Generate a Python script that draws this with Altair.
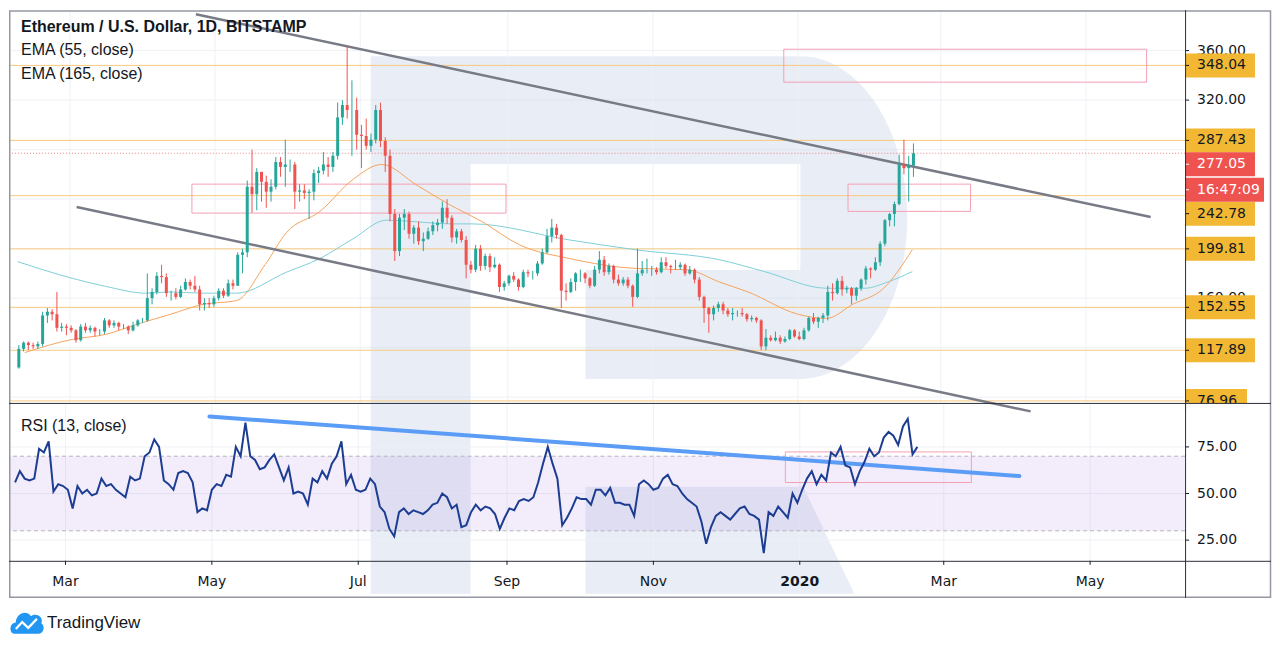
import altair as alt
import pandas as pd

# ---------------- values ----------------
candle_start = "2019-02-07"   # first two-day candle
first_open = 104

closes = [
    119, 124, 122, 121, 123, 146, 149, 147, 136, 137, 136,
    134, 126, 137, 134, 136, 133, 133, 142, 138, 140, 137, 137, 134, 138, 142, 142,
    160, 165, 178, 177, 164, 164, 161, 167, 173, 170, 167, 155, 156, 155, 160,
    166, 162, 172, 170, 195, 197, 250, 244, 262, 254, 246, 250, 270, 266, 268,
    268, 246, 247, 245, 246, 261, 263, 268, 266, 275, 306, 316, 312, 312, 292,
    291, 283, 288, 312, 287, 275, 228, 198, 225, 228, 212, 217, 206, 208, 214, 219,
    221, 233, 225, 209, 214, 207, 187, 183, 200, 186, 194, 185, 187, 169, 172,
    178, 175, 169, 181, 180, 180, 188, 197, 210, 217, 211, 166, 165, 173, 180,
    180, 176, 170, 183, 191, 181, 186, 175, 172, 175, 170, 161, 180, 183, 183, 183,
    181, 189, 186, 185, 185, 187, 180, 183, 175, 161, 152, 147, 152, 155, 150,
    147, 148, 148, 147, 143, 144, 142, 121, 128, 126, 128, 125, 127, 134, 129,
    127, 134, 144, 141, 144, 146, 165, 164, 174, 167, 168, 162, 168, 175, 184, 183,
    189, 204, 223, 228, 236, 268, 265, 267, 277,
]
highs = [
    122, 125, 125, 124, 125, 149, 152, 151, 165, 140, 139,
    138, 135, 139, 140, 138, 137, 135, 144, 143, 142, 141, 139, 138, 141, 143, 144,
    180, 168, 181, 187, 180, 166, 168, 170, 176, 175, 178, 170, 160, 160, 162,
    168, 168, 175, 175, 197, 200, 255, 280, 265, 262, 259, 256, 274, 274, 288,
    272, 270, 252, 252, 248, 264, 266, 278, 274, 278, 318, 320, 364, 336, 322,
    300, 305, 293, 316, 318, 290, 280, 232, 228, 232, 230, 219, 222, 213, 217, 222,
    224, 238, 240, 227, 216, 216, 210, 190, 203, 203, 196, 196, 193, 188, 174,
    179, 181, 176, 183, 183, 182, 190, 200, 216, 224, 220, 212, 172, 176, 181,
    183, 181, 177, 186, 198, 194, 188, 187, 179, 177, 177, 171, 200, 190, 192, 186,
    185, 193, 193, 187, 191, 189, 188, 186, 184, 177, 162, 153, 154, 157, 157,
    152, 152, 150, 152, 148, 146, 145, 143, 135, 130, 133, 130, 129, 135, 135,
    133, 136, 145, 148, 145, 148, 170, 172, 176, 178, 170, 169, 169, 176, 186, 185,
    193, 206, 224, 229, 238, 276, 288, 275, 285,
]
lows = [
    103, 117, 118, 119, 119, 121, 140, 142, 133, 133, 130,
    132, 124, 125, 132, 132, 129, 130, 131, 136, 136, 134, 135, 131, 133, 137, 140,
    141, 155, 163, 172, 161, 158, 159, 160, 166, 167, 165, 150, 150, 152, 153,
    158, 160, 161, 167, 170, 180, 193, 229, 231, 238, 233, 238, 248, 258, 250,
    262, 232, 238, 240, 224, 239, 253, 260, 258, 262, 272, 300, 305, 275, 280,
    265, 280, 278, 285, 282, 262, 222, 190, 194, 215, 208, 204, 203, 198, 207, 211,
    214, 216, 220, 205, 204, 205, 176, 180, 181, 182, 183, 181, 184, 165, 166,
    170, 173, 166, 168, 177, 175, 178, 187, 196, 205, 208, 152, 158, 164, 166,
    173, 172, 168, 169, 180, 178, 179, 172, 170, 170, 168, 153, 160, 178, 180, 178,
    179, 180, 184, 180, 183, 183, 178, 179, 172, 158, 140, 132, 142, 149, 147,
    145, 142, 145, 145, 141, 141, 140, 118, 118, 125, 125, 123, 124, 126, 128,
    126, 126, 133, 139, 136, 140, 142, 158, 163, 162, 164, 155, 158, 166, 171, 176,
    182, 186, 202, 218, 218, 235, 260, 238, 258,
]
rsi_values = [
    56, 62, 58, 57, 58, 74, 72, 78, 51, 55, 54,
    52, 42, 54, 50, 52, 49, 50, 58, 54, 55, 52, 50, 48, 59, 57, 58,
    70, 72, 79, 75, 57, 55, 52, 61, 62, 61, 56, 40, 42, 41, 52,
    55, 54, 60, 59, 75, 70, 88, 70, 68, 63, 64, 68, 71, 64, 57,
    64, 50, 51, 50, 44, 58, 56, 62, 58, 66, 70, 78, 55, 60, 52,
    51, 52, 58, 55, 43, 40, 31, 27, 40, 42, 39, 41, 40, 39, 41, 44,
    45, 50, 48, 42, 44, 32, 33, 40, 44, 41, 43, 42, 39, 31, 37,
    42, 41, 46, 47, 46, 48, 56, 66, 75, 66, 58, 33, 37, 42, 48,
    47, 47, 44, 52, 52, 49, 53, 45, 45, 44, 44, 38, 55, 57, 55, 52,
    53, 58, 60, 55, 54, 50, 47, 45, 43, 35, 23, 32, 38, 40, 38,
    36, 39, 42, 43, 39, 38, 36, 18, 40, 38, 43, 40, 37, 50, 45,
    52, 58, 62, 55, 60, 57, 72, 70, 75, 65, 64, 55, 62, 67, 74, 70,
    72, 80, 83, 81, 76, 86, 90, 71, 75,
]

ema55_dates = ["2019-02-10", "2019-03-02", "2019-03-16", "2019-03-29", "2019-04-12",
               "2019-04-26", "2019-05-10", "2019-05-22", "2019-05-31", "2019-06-14",
               "2019-06-28", "2019-07-10", "2019-07-25", "2019-08-08", "2019-08-21",
               "2019-09-06", "2019-09-27", "2019-10-25", "2019-11-15", "2019-11-29",
               "2019-12-11", "2020-01-01", "2020-01-13", "2020-01-24", "2020-02-06",
               "2020-02-18"]
ema55_values = [116, 126.7, 130.7, 138.8, 146.8, 155, 158, 187, 213, 230, 256, 268,
                251, 235, 222, 203, 192, 184, 183, 173, 165, 147, 143.6, 155, 168, 199]
ema165_dates = ["2019-02-07", "2019-03-02", "2019-03-16", "2019-04-02", "2019-04-12",
                "2019-04-26", "2019-05-10", "2019-05-31", "2019-06-14", "2019-06-28",
                "2019-07-12", "2019-07-25", "2019-08-08", "2019-08-17", "2019-09-27",
                "2019-10-25", "2019-11-29", "2019-12-18", "2020-01-13", "2020-01-29",
                "2020-02-08", "2020-02-18"]
ema165_values = [189.5, 176, 169.5, 164, 165, 164, 164, 181, 192, 208, 223, 221.6,
                 220, 220, 207, 199, 191, 181.4, 168, 168, 173.3, 181.4]

levels = [348.04, 287.43, 242.78, 199.81, 152.55, 117.89, 76.96]
current_price = 277.05
countdown = "16:47:09"

price_ticks = [80, 120, 160, 200, 240, 280, 320, 360]
price_tick_labels_visible = [160, 320, 360]   # the others sit under the level labels
rsi_ticks = [25, 50, 75]
rsi_band = [30, 70]

month_ticks = ["2019-03-01", "2019-05-01", "2019-07-01", "2019-09-01",
               "2019-11-01", "2020-01-01", "2020-03-01", "2020-05-01"]
month_labels = ["Mar", "May", "Jul", "Sep", "Nov", "2020", "Mar", "May"]

zone_start = ["2019-12-26T00:00:00", "2019-04-21T06:00:00", "2020-01-22T00:00:00"]
zone_end = ["2020-05-26T12:00:00", "2019-08-31T06:00:00", "2020-03-13T12:00:00"]
zone_low = [334.5, 228.7, 230.1]
zone_high = [361.1, 252.1, 252.1]

channel_names = ["upper", "upper", "lower", "lower"]
channel_dates = ["2019-04-22T22:00:00", "2020-05-28T05:00:00",
                 "2019-03-03T19:00:00", "2020-04-07T18:00:00"]
channel_values = [389.4, 225.5, 233.6, 68.5]

rsi_trend_dates = ["2019-04-30T00:00:00", "2020-04-01T12:00:00"]
rsi_trend_values = [91.3, 59.4]
rsi_zone = {"s": ["2019-12-26T00:00:00"], "e": ["2020-03-12T12:00:00"],
            "lo": [55.9], "hi": [72.3]}

# ---------------- styling ----------------
INK = "#131722"
UP, DOWN = "#26a69a", "#ef5350"
YELLOW = "#f2b733"
LEVEL = "#f6c97c"
PINK = "#f4a0b3"
GRID = "#eef1f6"
W, H_MAIN, H_RSI = 1177, 393, 158
FMT = "%Y-%m-%dT%H:%M:%S"

starts = pd.date_range(candle_start, periods=len(closes), freq="2D")
opens = [first_open] + closes[:-1]
candles = pd.DataFrame({
    "t": (starts + pd.Timedelta(hours=12)).strftime(FMT),
    "open": opens, "close": closes, "high": highs, "low": lows,
})
candles["dir"] = ["up" if c >= o else "down" for o, c in zip(opens, closes)]
rsi_df = pd.DataFrame({"t": (starts + pd.Timedelta(days=1)).strftime(FMT), "rsi": rsi_values})
month_df = pd.DataFrame({"t": [m + "T00:00:00" for m in month_ticks], "label": month_labels})
one = pd.DataFrame({"k": [0]})

xs = alt.Scale(domain=[alt.DateTime(year=2019, month=2, date=5, hours=11, minutes=17),
                       alt.DateTime(year=2020, month=6, date=9, hours=13, minutes=26)])
ps = alt.Scale(domain=[75.33, 392.6], nice=False, zero=False)
rs = alt.Scale(domain=[13.9, 98.58], nice=False, zero=False)


def X(f):
    return alt.X(f, type="temporal", scale=xs, axis=None)


def PY(f):
    return alt.Y(f, type="quantitative", scale=ps, axis=None)


def RY(f):
    return alt.Y(f, type="quantitative", scale=rs, axis=None)


def axis_layers(ticks, labelled, Y):
    d = pd.DataFrame({"v": ticks})
    dl = pd.DataFrame({"v": labelled, "label": [f"{t:.2f}" for t in labelled]})
    grid = alt.Chart(d).mark_rule(color=GRID, strokeWidth=1).encode(y=Y("v"))
    tk = alt.Chart(d).mark_rule(color=INK, strokeWidth=1).encode(
        x=alt.value(W), x2=alt.value(W + 4), y=Y("v"))
    tx = alt.Chart(dl).mark_text(align="left", baseline="middle", font="DejaVu Sans",
                                 fontSize=14, color=INK).encode(
        x=alt.value(W + 12), y=Y("v"), text="label:N")
    return grid, [tk, tx]


# ---------------- main panel ----------------
wm_path = ("M-2.5,-2.66 L1.8,-2.66 C2.39,-2.66 2.87,-1.935 2.87,-1.045 "
           "C2.87,-0.155 2.39,0.57 1.8,0.57 L-0.35,0.57 L-0.35,-0.52 L1.8,-0.52 "
           "L1.8,-1.58 L-1.5,-1.58 L-1.5,2.72 L-2.5,2.72 Z "
           "M-0.35,1.65 L1.83,1.65 L2.34,2.72 L-0.35,2.72 Z")
watermark = alt.Chart(one).mark_point(
    shape=wm_path, size=40000, filled=True, color="#c8d2e6", fill="#c8d2e6",
    opacity=0.4, strokeWidth=0).encode(x=alt.value(612), y=alt.value(312))

pgrid, paxis = axis_layers(price_ticks, price_tick_labels_visible, PY)
mgrid = alt.Chart(month_df).mark_rule(color=GRID).encode(x=X("t"))
level_rules = alt.Chart(pd.DataFrame({"v": levels})).mark_rule(
    color=LEVEL, strokeWidth=1).encode(y=PY("v"))
cur_rule = alt.Chart(pd.DataFrame({"v": [current_price]})).mark_rule(
    color=DOWN, strokeDash=[1, 2], strokeWidth=1, opacity=0.7).encode(y=PY("v"))
zones = alt.Chart(pd.DataFrame({"s": zone_start, "e": zone_end, "lo": zone_low, "hi": zone_high})
                  ).mark_rect(fill="transparent", stroke=PINK, strokeWidth=1).encode(
    x=X("s"), x2=alt.X2("e"), y=PY("lo"), y2=alt.Y2("hi"))
ema55 = alt.Chart(pd.DataFrame({"t": [d + "T00:00:00" for d in ema55_dates], "v": ema55_values})
                  ).mark_line(color="#f7a35c", strokeWidth=1, interpolate="monotone").encode(
    x=X("t"), y=PY("v"))
ema165 = alt.Chart(pd.DataFrame({"t": [d + "T00:00:00" for d in ema165_dates], "v": ema165_values})
                   ).mark_line(color="#7fcfd8", strokeWidth=1, interpolate="monotone").encode(
    x=X("t"), y=PY("v"))
channel = alt.Chart(pd.DataFrame({"name": channel_names, "t": channel_dates, "v": channel_values})
                    ).mark_line(color="#787b86", strokeWidth=2.5).encode(
    x=X("t"), y=PY("v"), detail="name:N")
dir_color = alt.Color("dir:N", scale=alt.Scale(domain=["up", "down"], range=[UP, DOWN]), legend=None)
wicks = alt.Chart(candles).mark_rule(strokeWidth=1).encode(
    x=X("t"), y=PY("low"), y2=alt.Y2("high"), color=dir_color)
bodies = alt.Chart(candles).mark_bar(size=3).encode(
    x=X("t"), y=PY("open"), y2=alt.Y2("close"), color=dir_color)


def header(text, x, y, bold=False):
    kw = dict(fontWeight="bold") if bold else {}
    return alt.Chart(one).mark_text(text=text, align="left", baseline="middle",
                                    font="Liberation Sans", fontSize=16, color=INK, **kw
                                    ).encode(x=alt.value(x), y=alt.value(y))


def box(v, label, fill, tcolor, w, off):
    d = pd.DataFrame({"v": [v], "label": [label]})
    s = w / 35.0
    path = f"M0,-0.343 L{s:.4f},-0.343 L{s:.4f},0.343 L0,0.343 Z"
    b = alt.Chart(d).mark_point(shape=path, size=4900, filled=True, color=fill, fill=fill,
                                opacity=1, strokeWidth=0, yOffset=off).encode(
        x=alt.value(W), y=PY("v"))
    tk = alt.Chart(d).mark_rule(color=tcolor, strokeWidth=1, yOffset=off).encode(
        x=alt.value(W), x2=alt.value(W + 4), y=PY("v"))
    tx = alt.Chart(d).mark_text(align="left", baseline="middle", font="DejaVu Sans",
                                fontSize=14, color=tcolor, yOffset=off).encode(
        x=alt.value(W + 12), y=PY("v"), text="label:N")
    return [b, tk, tx]


box_offsets = {242.78: 18}
boxes = []
for v in levels:
    boxes += box(v, f"{v:.2f}", YELLOW, INK, 62 if v < 100 else 70, box_offsets.get(v, 0))
boxes += box(current_price, f"{current_price:.2f}", DOWN, "white", 70, 11)
boxes += box(current_price, countdown, DOWN, "white", 79, 36.5)

main = alt.layer(
    pgrid, watermark, mgrid, level_rules, cur_rule, zones, ema165, ema55, channel, wicks, bodies,
    header("Ethereum / U.S. Dollar, 1D, BITSTAMP", 12, 17, bold=True),
    header("EMA (55, close)", 12, 40),
    header("EMA (165, close)", 12, 64),
    *paxis,
    *boxes,
).properties(width=W, height=H_MAIN)

# ---------------- RSI panel ----------------
rgrid, raxis = axis_layers(rsi_ticks, rsi_ticks, RY)
mgrid2 = alt.Chart(month_df).mark_rule(color=GRID).encode(x=X("t"))
band = alt.Chart(pd.DataFrame({"lo": [rsi_band[0]], "hi": [rsi_band[1]]})).mark_rect(
    color="#9c6ade", opacity=0.12).encode(
    x=alt.value(0), x2=alt.value(W), y=RY("lo"), y2=alt.Y2("hi"))
band_lines = alt.Chart(pd.DataFrame({"v": rsi_band})).mark_rule(
    color="#b2b5be", strokeDash=[4, 3], strokeWidth=1).encode(y=RY("v"))
rsi_zone_rect = alt.Chart(pd.DataFrame(rsi_zone)).mark_rect(
    fill="transparent", stroke=PINK, strokeWidth=1).encode(
    x=X("s"), x2=alt.X2("e"), y=RY("lo"), y2=alt.Y2("hi"))
rsi_trend = alt.Chart(pd.DataFrame({"t": rsi_trend_dates, "v": rsi_trend_values})).mark_line(
    color="#5b9cf6", strokeWidth=4, strokeCap="round").encode(x=X("t"), y=RY("v"))
rsi_line = alt.Chart(rsi_df).mark_line(color="#1c3d91", strokeWidth=2).encode(
    x=X("t"), y=RY("rsi"))

month_ticks_m = alt.Chart(month_df).mark_rule(color=INK).encode(
    x=X("t"), y=alt.value(H_RSI), y2=alt.value(H_RSI + 4))
month_text = alt.Chart(month_df).transform_filter(alt.datum.label != "2020").mark_text(
    font="DejaVu Sans", fontSize=14, color=INK, baseline="middle").encode(
    x=X("t"), y=alt.value(H_RSI + 21), text="label:N")
month_text_b = alt.Chart(month_df).transform_filter(alt.datum.label == "2020").mark_text(
    font="DejaVu Sans", fontSize=14, fontWeight="bold", color=INK, baseline="middle").encode(
    x=X("t"), y=alt.value(H_RSI + 21), text="label:N")

cover = alt.Chart(one).mark_rect(color="white").encode(
    x=alt.value(W + 1), x2=alt.value(1262), y=alt.value(0), y2=alt.value(12))
frame = alt.Chart(one).mark_rect(fill="transparent", stroke="#9598a1", strokeWidth=1.5).encode(
    x=alt.value(0.75), x2=alt.value(1262.5), y=alt.value(-392.25), y2=alt.value(194.5))
sep_v = alt.Chart(one).mark_rule(color="#2a2e39", strokeWidth=1).encode(
    x=alt.value(W + 0.5), y=alt.value(-393), y2=alt.value(195))
sep_h1 = alt.Chart(one).mark_rule(color="#2a2e39", strokeWidth=1).encode(
    x=alt.value(0), x2=alt.value(1263), y=alt.value(0.5))
sep_h2 = alt.Chart(one).mark_rule(color="#2a2e39", strokeWidth=1).encode(
    x=alt.value(0), x2=alt.value(1263), y=alt.value(H_RSI + 0.5))

cloud_path = ("M-0.8,0.75 C-1.1,0.75 -1.15,0.1 -0.7,0.05 C-0.7,-0.45 -0.1,-0.8 0.25,-0.35 "
              "C0.6,-0.6 1.05,-0.3 0.9,0.1 C1.15,0.25 1.05,0.75 0.75,0.75 Z")
cloud = alt.Chart(one).mark_point(shape=cloud_path, size=1024, filled=True, color="#2196f3",
                                  fill="#2196f3", opacity=1, strokeWidth=0).encode(
    x=alt.value(18), y=alt.value(219))
zig = alt.Chart(one).mark_point(shape="M-0.7,0.45 L-0.3,0.02 L0.08,0.38 L0.62,-0.18",
                                size=1024, filled=False, stroke="white", strokeWidth=2.2,
                                opacity=1).encode(x=alt.value(18), y=alt.value(219))
tv_text = alt.Chart(one).mark_text(text="TradingView", align="left", baseline="middle",
                                   font="Liberation Sans", fontSize=17, color=INK).encode(
    x=alt.value(38), y=alt.value(220))

rsi = alt.layer(
    rgrid, mgrid2, band, band_lines, rsi_zone_rect, rsi_trend, rsi_line,
    header("RSI (13, close)", 12, 23),
    *raxis,
    month_ticks_m, month_text, month_text_b,
    cover, frame, sep_v, sep_h1, sep_h2, cloud, zig, tv_text,
).properties(width=W, height=H_RSI)

chart = alt.vconcat(main, rsi, spacing=0, bounds="flush", padding=0,
                    background="white").configure_view(stroke="transparent")

chart.save("out.html", embed_options={"renderer": "svg", "actions": False})
